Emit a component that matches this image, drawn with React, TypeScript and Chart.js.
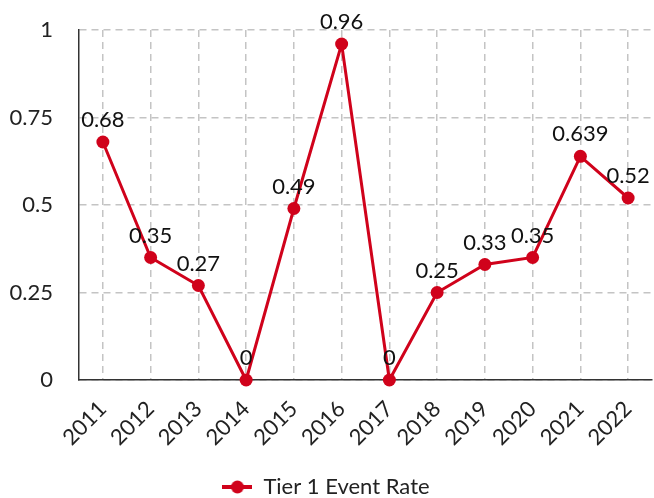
import React, { useEffect, useRef } from "react";
import { Chart, registerables } from "chart.js";

Chart.register(...registerables);

const categories = ["2011", "2012", "2013", "2014", "2015", "2016", "2017", "2018", "2019", "2020", "2021", "2022"];
const values = [0.68, 0.35, 0.27, 0, 0.49, 0.96, 0, 0.25, 0.33, 0.35, 0.639, 0.52];
const seriesName = "Tier 1 Event Rate";
const yTicks = [0, 0.25, 0.5, 0.75, 1];

const RED = "#d0021b";
const FONT = "Lato";
const FS = 22;

function makeLegendMarker(): HTMLCanvasElement {
  const c = document.createElement("canvas");
  c.width = 30;
  c.height = 14;
  const ctx = c.getContext("2d")!;
  ctx.strokeStyle = RED;
  ctx.lineWidth = 4;
  ctx.beginPath();
  ctx.moveTo(0, 7);
  ctx.lineTo(30, 7);
  ctx.stroke();
  ctx.fillStyle = RED;
  ctx.beginPath();
  ctx.arc(15, 7, 6.5, 0, Math.PI * 2);
  ctx.fill();
  return c;
}

const dataLabelPlugin = {
  id: "dataLabels",
  afterDatasetsDraw(chart: any) {
    const ctx = chart.ctx;
    const meta = chart.getDatasetMeta(0);
    const ds = chart.data.datasets[0];
    ctx.save();
    ctx.font = `${FS}px ${FONT}`;
    ctx.fillStyle = "#111";
    ctx.textAlign = "center";
    ctx.textBaseline = "middle";
    meta.data.forEach((pt: any, i: number) => {
      ctx.fillText(String(ds.data[i]), pt.x, pt.y - 22);
    });
    ctx.restore();
  },
};

function zeroPad(scale: any) {
  scale.paddingTop = 0;
  scale.paddingBottom = 0;
  scale.paddingLeft = 0;
  scale.paddingRight = 0;
}

export default function App() {
  const ref = useRef<HTMLCanvasElement>(null);
  useEffect(() => {
    const marker = makeLegendMarker();
    const chart = new Chart(ref.current!, {
      type: "line",
      data: {
        labels: categories,
        datasets: [
          {
            label: seriesName,
            data: values,
            borderColor: RED,
            backgroundColor: RED,
            borderWidth: 3,
            pointRadius: 6.5,
            pointHoverRadius: 6.5,
            pointBackgroundColor: RED,
            pointBorderColor: RED,
            pointBorderWidth: 0,
            tension: 0,
            clip: false as any,
          },
        ],
      },
      options: {
        animation: false,
        responsive: true,
        maintainAspectRatio: false,
        layout: { autoPadding: false, padding: { top: 30, right: 2, left: 0, bottom: -10 } },
        plugins: {
          tooltip: { enabled: false },
          legend: {
            position: "bottom",
            labels: {
              usePointStyle: true,
              pointStyle: marker as any,
              pointStyleWidth: 30,
              color: "#222",
              font: { family: FONT, size: FS, lineHeight: 1 },
              padding: 0,
            },
          },
        },
        scales: {
          x: {
            type: "category",
            offset: true,
            grid: {
              offset: false,
              color: "#c4c4c4",
              lineWidth: 1.5,
              drawTicks: false,
            },
            border: { display: true, color: "#333", width: 1.5, dash: [7, 5] },
            ticks: {
              color: "#222",
              font: { family: FONT, size: FS },
              maxRotation: 45,
              minRotation: 45,
              padding: 16,
              autoSkip: false,
            },
            afterFit(scale: any) {
              scale.height = 96;
              zeroPad(scale);
            },
          },
          y: {
            min: 0,
            max: 1,
            afterBuildTicks(scale: any) {
              scale.ticks = yTicks.map((v) => ({ value: v }));
            },
            grid: {
              color: "#c4c4c4",
              lineWidth: 1.5,
              drawTicks: false,
            },
            border: { display: true, color: "#333", width: 1.5, dash: [7, 5] },
            ticks: {
              color: "#222",
              font: { family: FONT, size: FS },
              padding: 26,
              callback: (v: any) => String(v),
            },
            afterFit(scale: any) {
              scale.width = 79;
              zeroPad(scale);
            },
          },
        },
      },
      plugins: [dataLabelPlugin],
    });
    return () => chart.destroy();
  }, []);
  return (
    <div style={{ position: "fixed", left: 0, top: 0, width: 654, height: 498 }}>
      <canvas ref={ref} />
    </div>
  );
}
